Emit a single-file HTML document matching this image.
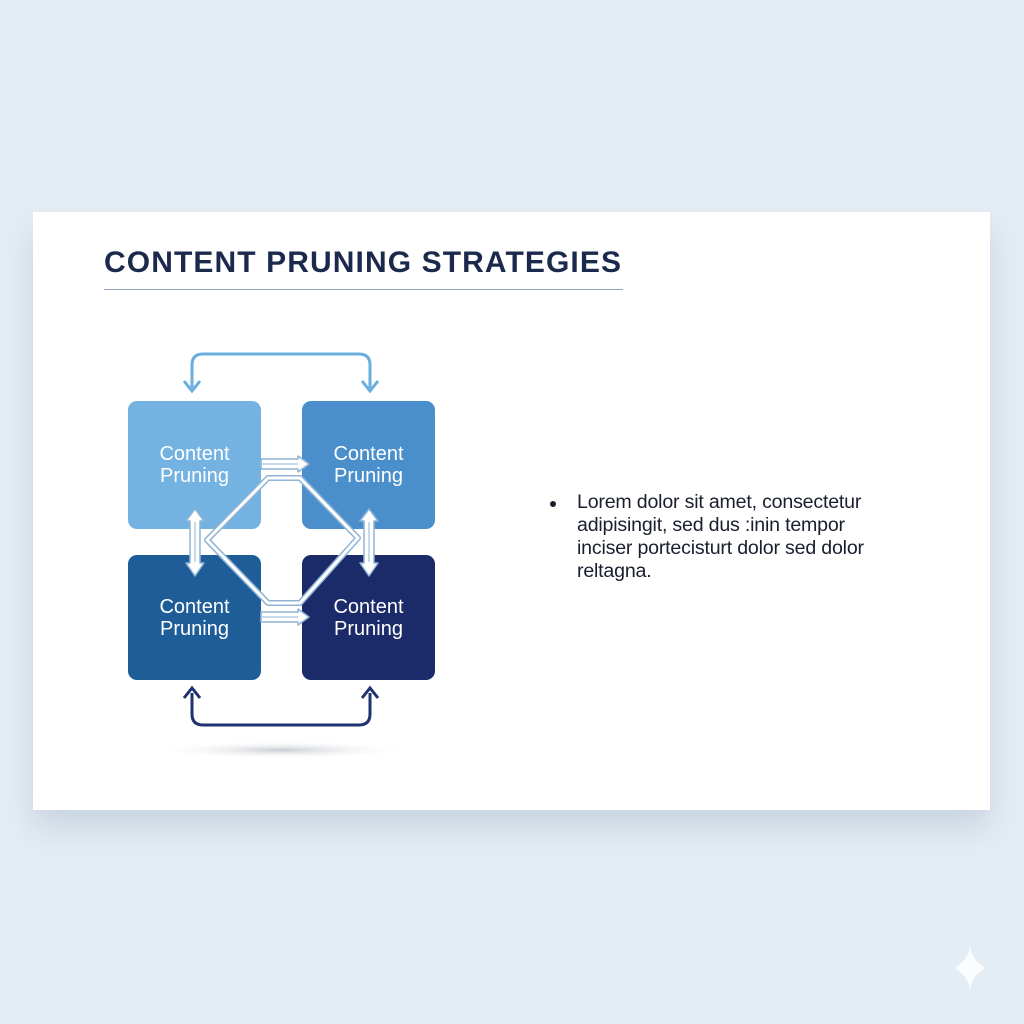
<!DOCTYPE html>
<html><head><style>
body{margin:0;width:1024px;height:1024px;background:#e5edf4;position:relative;overflow:hidden;font-family:"Liberation Sans",sans-serif}
.card{position:absolute;left:33px;top:212px;width:957px;height:598px;background:#fff;box-shadow:0 18px 30px rgba(120,140,165,.25)}
.t{position:absolute;left:104px;top:246px;font-size:30px;font-weight:bold;color:#1b2a4c;letter-spacing:1.1px}
.ln{position:absolute;left:104px;top:289px;width:519px;height:1px;background:#8ea3bd}
.b{position:absolute;border-radius:9px;color:#fff;font-size:20px;line-height:22px;text-align:center;display:flex;align-items:center;justify-content:center}
.txt{position:absolute;left:577px;top:491px;font-size:19.6px;line-height:23px;color:#1a1f2e;letter-spacing:-.2px}
.dot{position:absolute;left:550px;top:501px;width:6px;height:6px;border-radius:3px;background:#1a1f2e}
</style></head><body>
<div class="card"></div>
<div class="t">CONTENT PRUNING STRATEGIES</div>
<div class="ln"></div>
<div class="b" style="left:128px;top:401px;width:133px;height:128px;background:#74b2e1">Content<br>Pruning</div>
<div class="b" style="left:302px;top:401px;width:133px;height:128px;background:#4a8fcb">Content<br>Pruning</div>
<div class="b" style="left:128px;top:555px;width:133px;height:125px;background:#1f5d98">Content<br>Pruning</div>
<div class="b" style="left:302px;top:555px;width:133px;height:125px;background:#1b2a68">Content<br>Pruning</div>
<svg style="position:absolute;left:0;top:0" width="1024" height="1024">
<defs><radialGradient id="sh"><stop offset="0" stop-color="#c8ccd2"/><stop offset="1" stop-color="#fff" stop-opacity="0"/></radialGradient></defs>
<ellipse cx="282" cy="750" rx="130" ry="9" fill="url(#sh)"/>
<path d="M192 388 V365 Q192 354 203 354 H359 Q370 354 370 365 V388" fill="none" stroke="#6aaede" stroke-width="3"/>
<path d="M184 381 L192 391 L200 381 M362 381 L370 391 L378 381" fill="none" stroke="#6aaede" stroke-width="3"/>
<path d="M192 693 V714 Q192 725 203 725 H359 Q370 725 370 714 V693" fill="none" stroke="#1e3370" stroke-width="3"/>
<path d="M184 698 L192 688 L200 698 M362 698 L370 688 L378 698" fill="none" stroke="#1e3370" stroke-width="3"/>
<g fill="none" stroke-linejoin="round">
<path d="M268 478 H300 L358 538 L300 603 H268 L207 540 Z" stroke="#8fb4d6" stroke-width="6"/>
<path d="M268 478 H300 L358 538 L300 603 H268 L207 540 Z" stroke="#fff" stroke-width="3"/>
</g>
<g fill="#fff" stroke="#8fb4d6" stroke-width="1.5" stroke-linejoin="round">
<path d="M261 459 H298 V456 L309 464 L298 472 V469 H261 Z"/>
<path d="M261 612 H298 V609 L309 617 L298 625 V622 H261 Z"/>
<path d="M190 521 H186 L195 509 L204 521 H200 V563 H204 L195 576 L186 563 H190 Z"/>
<path d="M364 521 H360 L369 509 L378 521 H374 V563 H378 L369 576 L360 563 H364 Z"/>
</g>
<g stroke="#8fb4d6" stroke-width="1"><path d="M262 464 H298 M262 617 H298 M195 522 V562 M369 522 V562"/></g>
<path d="M955 968 Q968 960 970 946 Q972 960 985 968 Q972 976 970 990 Q968 976 955 968Z" fill="#fff" opacity=".8"/>
</svg>
<div class="dot"></div>
<div class="txt">Lorem dolor sit amet, consectetur<br>adipisingit, sed dus :inin tempor<br>inciser portecisturt dolor sed dolor<br>reltagna.</div>
</body></html>
